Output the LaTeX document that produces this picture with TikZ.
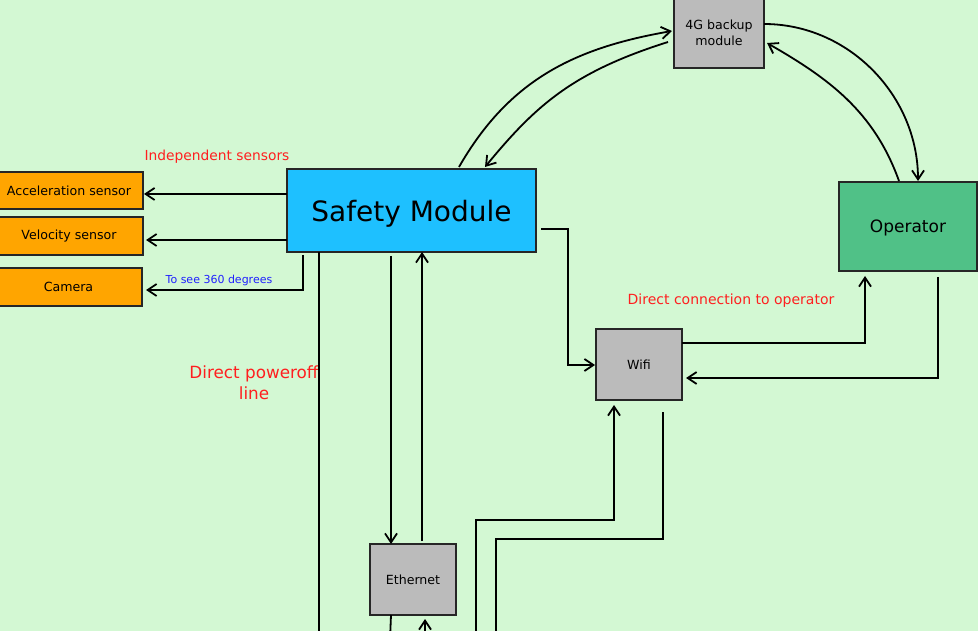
\documentclass[tikz,border=0pt]{standalone}
\usepackage{fontspec}
\setmainfont{DejaVu Sans}
\usetikzlibrary{arrows.meta,calc}
\definecolor{bg}{HTML}{D3F8D3}
\definecolor{orng}{HTML}{FFA500}
\definecolor{cyanb}{HTML}{1EC0FF}
\definecolor{grayb}{HTML}{BBBBBB}
\definecolor{opg}{HTML}{50C187}
\definecolor{lblred}{HTML}{FF1F1F}
\definecolor{lblblue}{HTML}{2020FF}
\begin{document}
\begin{tikzpicture}[x=1pt,y=-1pt,
  box/.style={draw=black!85, line width=1.8pt, anchor=north west, inner sep=0pt, outer sep=0pt, align=center},
  sm/.style={font=\fontsize{12.6}{16}\selectfont},
  conn/.style={draw=black, line width=1.8pt},
  arr/.style={conn, -{Straight Barb[length=9pt,width=12pt]}},
  lbl/.style={text=lblred, align=center, inner sep=0pt}]
\fill[bg] (0,0) rectangle (978,631);
\useasboundingbox (0,0) rectangle (978,631);
\clip (0,0) rectangle (978,631);

% nodes
\node[box, fill=orng, minimum width=148pt, minimum height=37pt, sm] (acc) at (-5,172) {Acceleration sensor};
\node[box, fill=orng, minimum width=148pt, minimum height=38pt, sm] (vel) at (-5,217) {Velocity sensor};
\node[box, fill=orng, minimum width=147pt, minimum height=38pt, sm] (cam) at (-5,268) {Camera};
\node[box, fill=cyanb, minimum width=249pt, minimum height=83pt, text depth=0pt, font=\fontsize{28}{32}\selectfont] (safety) at (287,169) {Safety Module};
\node[box, fill=grayb, minimum width=90pt, minimum height=70pt, sm] (g4) at (674,-2) {4G backup\\module};
\node[box, fill=opg, minimum width=138pt, minimum height=89pt, text depth=0pt, font=\fontsize{17}{20}\selectfont] (op) at (839,182) {Operator};
\node[box, fill=grayb, minimum width=86pt, minimum height=71pt, sm] (wifi) at (596,329) {Wifi};
\node[box, fill=grayb, minimum width=86pt, minimum height=71pt, sm] (eth) at (370,544) {Ethernet};

% labels
\node[lbl, font=\fontsize{13.8}{16}\selectfont] (lindep) at (217,156.5) {Independent sensors};
\node[lbl, text=lblblue, font=\fontsize{11}{13}\selectfont] (l360) at (219,280) {To see 360 degrees};
\node[lbl, font=\fontsize{16.8}{21}\selectfont] (lpow) at (254,383) {Direct poweroff\\line};
\node[lbl, font=\fontsize{14}{17}\selectfont] (ldirect) at (731,301) {Direct connection to operator};

% free ends below the picture
\coordinate (powend) at (319,640);
\coordinate (ethdown) at (390,640);
\coordinate (ethup) at (425,640);
\coordinate (wifiup) at (476,640);
\coordinate (wifidown) at (496,640);

% connectors to sensors
\draw[arr] ($(safety.west)+(0,-16.5)$) -- ($(acc.east)+(1,3.5)$);
\draw[arr] ($(safety.west)+(0,29.5)$) -- ($(vel.east)+(3,4)$);
\draw[arr] ($(safety.south west)+(16,3)$) |- ($(cam.east)+(4,3)$);

% poweroff line
\draw[conn] ($(safety.south west)+(32,0)$) -- (powend);

% safety <-> ethernet
\draw[arr] ($(safety.south west)+(104,4)$) -- ($(eth.north west)+(21,0)$);
\draw[arr] ($(eth.north west)+(52,-3)$) -- ($(safety.south west)+(135,0)$);
\draw[conn] ($(eth.south west)+(21,0)$) -- (ethdown);
\draw[arr] (ethup) -- ($(eth.south west)+(55,4)$);

% lines from below to wifi
\draw[arr] (wifiup) -- (476,520) -| ($(wifi.south west)+(18,5)$);
\draw[conn] ($(wifi.south west)+(67,12)$) |- (496,539) -- (wifidown);

% safety -> wifi
\draw[arr] ($(safety.east)+(5,18.5)$) -- (568,229) |- ($(wifi.west)+(-1,0.5)$);

% wifi <-> operator
\draw[arr] ($(wifi.north east)+(0,14)$) -| ($(op.south west)+(26,5)$);
\draw[arr] ($(op.south west)+(99,6)$) |- ($(wifi.east)+(4,13.5)$);

% 4G curves
\draw[arr] ($(safety.north west)+(172,-2)$) .. controls (509,80) and (574,48) .. ($(g4.west)+(-2,-2)$);
\draw[arr] ($(g4.west)+(-6,9)$) .. controls (573,72) and (536,105) .. ($(safety.north west)+(198,-2)$);
\draw[arr] ($(g4.east)+(0,-9)$) .. controls (849,24) and (918,96) .. ($(op.north west)+(79,-1)$);
\draw[arr] ($(op.north west)+(60,-1)$) .. controls (874,111) and (828,78) .. ($(g4.east)+(3,10)$);
\end{tikzpicture}
\end{document}
